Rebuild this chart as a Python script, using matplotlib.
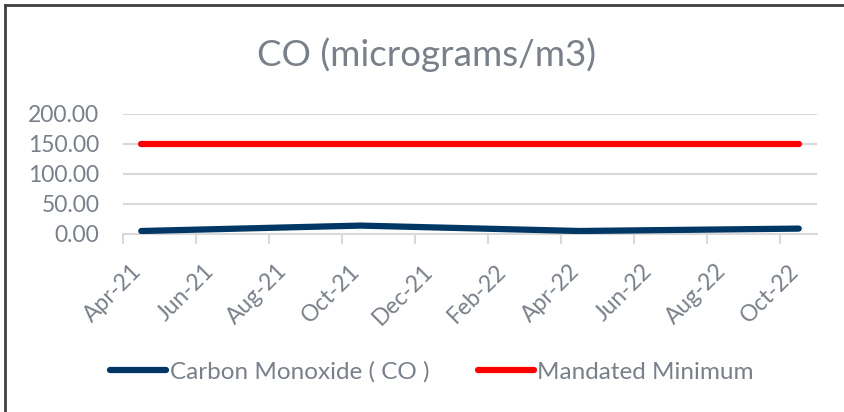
import numpy as np
import matplotlib
matplotlib.use('Agg')
import matplotlib.pyplot as plt
import matplotlib.transforms as mtransforms
from matplotlib.lines import Line2D

# months on the axis (monthly base unit, Apr-21 .. Oct-22)
months = ['Apr-21', 'May-21', 'Jun-21', 'Jul-21', 'Aug-21', 'Sep-21', 'Oct-21',
          'Nov-21', 'Dec-21', 'Jan-22', 'Feb-22', 'Mar-22', 'Apr-22', 'May-22',
          'Jun-22', 'Jul-22', 'Aug-22', 'Sep-22', 'Oct-22']

co_months = ['Apr-21', 'Oct-21', 'Apr-22', 'Oct-22']
co_values = [5.0, 14.0, 5.0, 9.0]

min_months = ['Apr-21', 'Oct-22']
min_values = [150.0, 150.0]

label_months = ['Apr-21', 'Jun-21', 'Aug-21', 'Oct-21', 'Dec-21', 'Feb-22',
                'Apr-22', 'Jun-22', 'Aug-22', 'Oct-22']

yticks = [0, 50, 100, 150, 200]

txt = '#79808a'
grid = '#d9d9d9'
plt.rcParams['font.family'] = ['Lato', 'DejaVu Sans']

fig = plt.figure(figsize=(8.44, 4.12), dpi=100)
ax = fig.add_axes([123/844, 1 - 234/412, 694/844, 120/412])

xco = [months.index(m) for m in co_months]
xmin = [months.index(m) for m in min_months]
ax.plot(xco, co_values, color='#003764', lw=4.5, solid_capstyle='round',
        solid_joinstyle='round', zorder=3)
ax.plot(xmin, min_values, color='#ff0000', lw=4.5, solid_capstyle='round', zorder=3)

ax.set_xlim(-0.5, len(months) - 0.5)
ax.set_ylim(0, 200)
ax.set_yticks(yticks)
ax.set_yticklabels(['%.2f' % v for v in yticks])
ax.yaxis.grid(True, color=grid, lw=1.5)
ax.set_axisbelow(True)

# labels at month centres, tick marks between categories
ax.set_xticks([months.index(m) for m in label_months])
ax.set_xticklabels(label_months, rotation=45, ha='right', va='top')
ax.set_xticks(np.arange(-0.5, len(months) - 1, 2), minor=True)
ax.tick_params(axis='x', which='major', length=0, pad=19, labelsize=16.5, labelcolor=txt)
ax.tick_params(axis='x', which='minor', length=7, width=1.5, color=grid, direction='out')
ax.tick_params(axis='y', length=0, pad=17, labelsize=16.5, labelcolor=txt)
shift = mtransforms.ScaledTranslation(4/100, 0, fig.dpi_scale_trans)
for lab in ax.get_xticklabels():
    lab.set_transform(lab.get_transform() + shift)

for s in ['top', 'right', 'left']:
    ax.spines[s].set_visible(False)
ax.spines['bottom'].set_color(grid)
ax.spines['bottom'].set_linewidth(1.5)

fig.text(426/844, 1 - 55/412, 'CO (micrograms/m3)', ha='center', va='center',
         fontsize=26.5, color=txt)

handles = [Line2D([], [], color='#003764', lw=4.5, solid_capstyle='round'),
           Line2D([], [], color='#ff0000', lw=4.5, solid_capstyle='round')]
leg = fig.legend(handles, ['Carbon Monoxide ( CO )', 'Mandated Minimum'],
                 loc='center', bbox_to_anchor=(432/844, 1 - 372/412), ncol=2,
                 frameon=False, fontsize=17.5, handlelength=2.3, handletextpad=0.15,
                 columnspacing=2.0)
for t in leg.get_texts():
    t.set_color(txt)

# chart border (top and left edges visible)
fig.add_artist(Line2D([5/844, 5/844], [0, 1 - 5/412], color='#404040', lw=2,
                      transform=fig.transFigure))
fig.add_artist(Line2D([5/844, 1], [1 - 5/412, 1 - 5/412], color='#404040', lw=2,
                      transform=fig.transFigure))

fig.savefig('out.png', dpi=100)
